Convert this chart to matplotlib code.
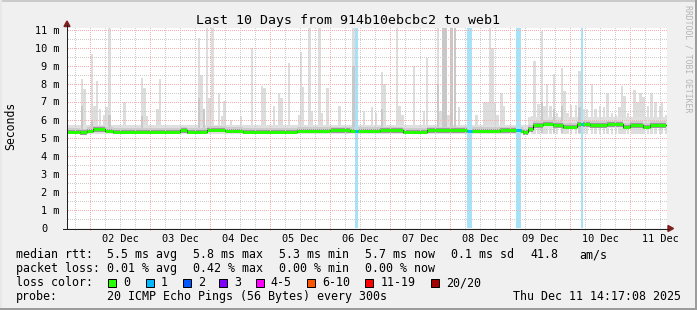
import matplotlib
matplotlib.use("Agg")
import numpy as np
import matplotlib.pyplot as plt
from matplotlib.patches import Rectangle, Polygon
from matplotlib.lines import Line2D
from matplotlib.transforms import blended_transform_factory

# ---------------- data ----------------
title = "Last 10 Days from 914b10ebcbc2 to web1"
x_start_day = 1.6167          # Dec 1, ~14:48
x_end_day = 11.6167
data_end_day = 11.60

day_labels = ["02 Dec", "03 Dec", "04 Dec", "05 Dec", "06 Dec",
              "07 Dec", "08 Dec", "09 Dec", "10 Dec", "11 Dec"]
day_label_pos = [2.5, 3.5, 4.5, 5.5, 6.5, 7.5, 8.5, 9.5, 10.5, 11.5]
y_ticks = [0, 1, 2, 3, 4, 5, 6, 7, 8, 9, 10, 11]
y_tick_labels = ["0", "1 m", "2 m", "3 m", "4 m", "5 m", "6 m", "7 m",
                 "8 m", "9 m", "10 m", "11 m"]

# median RTT (ms), step function: segment start day -> value
median_start = [1.617, 1.833, 1.95, 2.05, 2.25, 2.383, 3.5, 3.617, 3.95, 4.25,
                4.55, 5.45, 6.0, 6.333, 6.833, 7.217, 7.617, 8.283, 8.833, 9.167,
                9.217, 9.3, 9.383, 9.55, 9.717, 9.883, 10.117, 10.333, 10.617,
                10.883, 11.0, 11.217, 11.333]
median_ms = [5.35, 5.31, 5.39, 5.48, 5.39, 5.35, 5.43, 5.35, 5.47, 5.39,
             5.35, 5.39, 5.43, 5.39, 5.43, 5.35, 5.43, 5.39, 5.43, 5.39,
             5.31, 5.50, 5.72, 5.80, 5.72, 5.63, 5.76, 5.72, 5.76,
             5.63, 5.72, 5.63, 5.72]

# base smoke envelope (min / typical max ping)
smoke_start = [1.617, 9.3]
smoke_low = [5.20, 5.55]
smoke_top = [5.72, 6.15]

# single-ping spikes (max ping in a column)
spike_day = [1.867, 1.908, 2.033, 2.075, 2.117, 2.167, 2.233, 2.275, 2.325, 2.575,
             2.867, 2.908, 2.95, 3.125, 3.167, 3.817, 3.858, 3.9, 3.95, 3.992,
             4.042, 4.15, 4.2, 4.242, 4.35, 4.517, 4.7, 4.867, 4.908, 5.067,
             5.15, 5.192, 5.317, 5.483, 5.517, 5.55, 5.658, 5.7, 5.825, 5.867,
             5.958, 6.158, 6.392, 6.567, 6.7, 6.767, 6.867, 6.908, 7.117, 7.158,
             7.208, 7.4, 7.567, 7.617, 7.8, 7.842, 7.883, 7.925, 7.975, 8.025,
             8.083, 8.15, 8.442, 8.575, 8.625, 8.667, 8.708, 8.75, 8.792, 8.858,
             8.9, 9.133, 9.367, 9.408, 9.475, 9.533, 9.575, 9.617, 9.675, 9.733,
             9.783, 9.867, 9.908, 9.958, 10.017, 10.1, 10.158, 10.233, 10.283, 10.367,
             10.425, 10.5, 10.567, 10.625, 10.7, 10.767, 10.825, 10.867, 10.908, 10.967,
             11.033, 11.075, 11.125, 11.175, 11.225, 11.3, 11.358, 11.425, 11.5, 11.533,
             11.6]
spike_max = [8.28, 7.7, 9.65, 6.8, 8.17, 6.6, 6.3, 6.7, 11.2, 7.0,
             8.35, 7.8, 6.2, 6.6, 8.28, 10.57, 8.5, 6.2, 11.2, 7.2,
             11.2, 7.5, 6.2, 7.05, 6.0, 6.2, 9.98, 7.9, 7.8, 6.8,
             7.5, 7.2, 9.15, 6.3, 9.8, 7.85, 11.2, 6.5, 11.2, 6.4,
             7.75, 6.8, 11.2, 6.5, 6.7, 6.4, 8.65, 8.0, 11.2, 6.8,
             6.3, 9.0, 6.5, 9.46, 11.2, 6.5, 11.2, 11.2, 6.3, 11.2,
             11.2, 6.7, 6.3, 7.0, 7.0, 11.2, 10.0, 7.0, 6.3, 7.5,
             6.8, 6.5, 6.2, 9.3, 6.9, 10.95, 6.8, 8.0, 6.8, 8.55,
             6.4, 8.9, 7.6, 6.4, 6.85, 6.85, 8.7, 6.6, 6.6, 8.0,
             6.6, 6.8, 6.7, 7.5, 6.4, 6.3, 6.7, 7.9, 7.35, 6.4,
             6.1, 7.67, 7.0, 7.5, 7.3, 6.75, 7.5, 7.0, 6.75, 7.0,
             6.3]

# columns where several pings were high (darker smoke)
dense_day = [1.867, 2.033, 2.325, 2.867, 3.817, 3.9, 6.392, 6.867, 7.8, 7.883,
             7.925, 8.025, 8.083, 9.533, 9.733, 9.867, 10.158]
dense_top = [6.8, 6.0, 6.3, 6.2, 7.2, 6.6, 9.0, 6.6, 8.0, 11.2,
             11.2, 11.2, 11.2, 7.0, 6.6, 6.8, 6.7]

# packet-loss windows (loss colour 1)
loss_start = [6.417, 8.283, 9.100, 10.183]
loss_end = [6.467, 8.367, 9.183, 10.217]

legend_rows = [
    ["median rtt:", "5.5 ms avg", "5.8 ms max", "5.3 ms min", "5.7 ms now", "0.1 ms sd", "41.8", "am/s"],
    ["packet loss:", "0.01 % avg", "0.42 % max", "0.00 % min", "0.00 % now"],
]
loss_labels = ["0", "1", "2", "3", "4-5", "6-10", "11-19", "20/20"]
loss_colors = ["#26ff00", "#00b8ff", "#0059ff", "#7e00ff", "#ff00ff", "#ff5500", "#ff0000", "#a10000"]
probe_text = "20 ICMP Echo Pings (56 Bytes) every 300s"
stamp_text = "Thu Dec 11 14:17:08 2025"

# ---------------- figure ----------------
W, H = 697, 310
FONT = "DejaVu Sans Mono"
fig = plt.figure(figsize=(W / 100, H / 100), dpi=100, facecolor="#f0f0f0")


def fx(x):
    return x / W


def fy(y):
    return 1 - y / H


AX_L, AX_T, AX_W, AX_H = 67, 28, 600, 200
Y_TOP = 11.111
ax = fig.add_axes([fx(AX_L), fy(AX_T + AX_H), AX_W / W, AX_H / H])
ax.set_facecolor("white")
ax.set_xlim(x_start_day, x_end_day)
ax.set_ylim(0, Y_TOP)
for s in ax.spines.values():
    s.set_visible(False)
ax.set_xticks([])
ax.set_yticks([])

PX = 0.72  # one pixel in points

# smoke: single-ping spikes
ax.bar(spike_day, np.array(spike_max) - 5.2, bottom=5.2, width=0.042,
       color="#dddddd", linewidth=0, zorder=1)

# base smoke envelope
sx = smoke_start + [data_end_day]
ax.fill_between(sx, smoke_low + [smoke_low[-1]], smoke_top + [smoke_top[-1]],
                step="post", color="#e0e0e0", linewidth=0, zorder=1.1)

# darker smoke
ax.bar(dense_day, np.array(dense_top) - 5.3, bottom=5.3, width=0.042,
       color="#c8c8c8", linewidth=0, zorder=1.2)

mx = median_start + [data_end_day]
mv = np.array(median_ms + [median_ms[-1]])
ax.fill_between(mx, mv - 0.10, mv + 0.20, step="post", color="#cdcdcd",
                linewidth=0, zorder=1.3)
ax.fill_between(mx, mv - 0.14, mv + 0.11, step="post", color="#9a9a9a",
                linewidth=0, zorder=1.4)

# loss background bars
for s, e in zip(loss_start, loss_end):
    ax.axvspan(s, e, color="#a6e3f9", linewidth=0, zorder=1.5)

# dotted grid, rendered pixel-exact as an overlay
minor_y = [v + 0.5 for v in range(0, 11)]
major_y = list(range(1, 12))
major_x = list(range(2, 12))
minor_x = [d + q for d in range(1, 12) for q in (0.25, 0.5, 0.75)
           if x_start_day < d + q < x_end_day]
gray_c = np.array([0.80, 0.80, 0.80, 1.0])
red_c = np.array([0.98, 0.68, 0.68, 1.0])
overlay = np.zeros((AX_H, AX_W, 4))
ppd = AX_W / (x_end_day - x_start_day)
ppm = AX_H / Y_TOP


def row_of(v):
    return int(round(AX_H - v * ppm))


def col_of(d):
    return int(round((d - x_start_day) * ppd))


for v in minor_y:
    overlay[row_of(v), 1::2] = gray_c
for d in minor_x:
    overlay[0::2, col_of(d)] = gray_c
for v in major_y:
    overlay[row_of(v), 1::2] = red_c
for d in major_x:
    overlay[0::2, col_of(d)] = red_c
ax.imshow(overlay, extent=(x_start_day, x_end_day, 0, Y_TOP), aspect="auto",
          interpolation="nearest", zorder=2)
ax.set_xlim(x_start_day, x_end_day)
ax.set_ylim(0, Y_TOP)

# tick marks below x axis
ax.vlines(minor_x, -0.12, 0, colors="#bdbdbd", lw=PX, clip_on=False, zorder=2, snap=True)
ax.vlines(major_x, -0.12, 0, colors="#f08080", lw=PX, clip_on=False, zorder=2, snap=True)

# median line
ends = median_start[1:] + [data_end_day]
sxs, sys_ = [], []
for s, e, v in zip(median_start, ends, median_ms):
    sxs += [s, e]
    sys_ += [v, v]
ax.plot(sxs, sys_, color="black", lw=PX, zorder=3)
ax.hlines(median_ms, median_start, ends, colors="#26ff00", lw=3 * PX, zorder=3.1)
for s, e in zip(loss_start, loss_end):
    i = int(np.searchsorted(median_start, s, side="right") - 1)
    ax.hlines([median_ms[i]], [s], [e], colors="#00b8ff", lw=3 * PX, zorder=3.2)

# axes lines and arrows
fig.add_artist(Line2D([fx(63), fx(668)], [fy(228.5), fy(228.5)], color="#1f1f1f", lw=PX))
fig.add_artist(Line2D([fx(67), fx(67)], [fy(228.5), fy(25)], color="#1f1f1f", lw=PX))
fig.add_artist(Polygon([(fx(64), fy(26.5)), (fx(70), fy(26.5)), (fx(67), fy(21))],
                       closed=True, color="#7f1f1f", transform=fig.transFigure))
fig.add_artist(Polygon([(fx(668), fy(225.5)), (fx(668), fy(231.5)), (fx(673.5), fy(228.5))],
                       closed=True, color="#7f1f1f", transform=fig.transFigure))

# tick labels
for v, lab in zip(y_ticks, y_tick_labels):
    ypix = 228 - v * 18
    if lab == "0":
        fig.text(fx(44.8), fy(ypix + 0.5), lab, ha="center", va="center",
                 family=FONT, fontsize=7.4, color="#000000")
    else:
        fig.text(fx(59), fy(ypix + 0.5), lab, ha="right", va="center",
                 family=FONT, fontsize=7.4, color="#000000")

bt = blended_transform_factory(ax.transData, fig.transFigure)
for pos, lab in zip(day_label_pos, day_labels):
    ax.text(pos, fy(241.5), lab, ha="center", va="baseline", transform=bt,
            family=FONT, fontsize=7.4, color="#000000")

# title, y label, watermark
fig.text(fx(348), fy(24), title, ha="center", va="baseline", family=FONT,
         fontsize=9.5, color="#000000")
fig.text(fx(10.5), fy(126), "Seconds", ha="center", va="center", rotation=90,
         family=FONT, fontsize=8.3, color="#000000")
fig.text(fx(688), fy(59), "RRDTOOL / TOBI OETIKER", ha="center", va="center",
         rotation=270, family=FONT, fontsize=5.9, color="#b4b4b4")

# legend
LF = 8.35
row1_x = [16, 107.3, 193.3, 279.3, 365, 451, 530, 579.3]
row2_x = [16, 107.3, 193.3, 279.3, 365]
for txt, x in zip(legend_rows[0], row1_x):
    fig.text(fx(x), fy(258.3), txt, ha="left", va="baseline", family=FONT, fontsize=LF)
for txt, x in zip(legend_rows[1], row2_x):
    fig.text(fx(x), fy(272.2), txt, ha="left", va="baseline", family=FONT, fontsize=LF)
fig.text(fx(16), fy(286.2), "loss color:", ha="left", va="baseline", family=FONT, fontsize=LF)
box_x = [108.3, 145.7, 182.7, 219.3, 256, 307.3, 365, 430.7]
lab_x = [123.3, 160.7, 197.7, 234.3, 270.7, 322, 380.7, 446]
for bx, lx, lab, col in zip(box_x, lab_x, loss_labels, loss_colors):
    fig.add_artist(Rectangle((fx(bx), fy(286.5)), 8 / W, 8 / H, transform=fig.transFigure,
                             facecolor=col, edgecolor="black", lw=PX))
    fig.text(fx(lx), fy(286.2), lab, ha="left", va="baseline", family=FONT, fontsize=LF)
fig.text(fx(16), fy(300), "probe:", ha="left", va="baseline", family=FONT, fontsize=LF)
fig.text(fx(107.3), fy(300), probe_text, ha="left", va="baseline", family=FONT, fontsize=LF)
fig.text(fx(513.3), fy(300), stamp_text, ha="left", va="baseline", family=FONT, fontsize=LF)

# outer 3D border
fig.add_artist(Line2D([0, 1], [fy(0.5), fy(0.5)], color="#cbcbcb", lw=2 * PX))
fig.add_artist(Line2D([fx(0.5), fx(0.5)], [0, 1], color="#e8e8e8", lw=2 * PX))
fig.add_artist(Line2D([0, 1], [fy(309), fy(309)], color="#9c9c9c", lw=2 * PX))
fig.add_artist(Line2D([fx(696), fx(696)], [0, 1], color="#9c9c9c", lw=2 * PX))

fig.savefig("out.png", dpi=100, facecolor=fig.get_facecolor())
